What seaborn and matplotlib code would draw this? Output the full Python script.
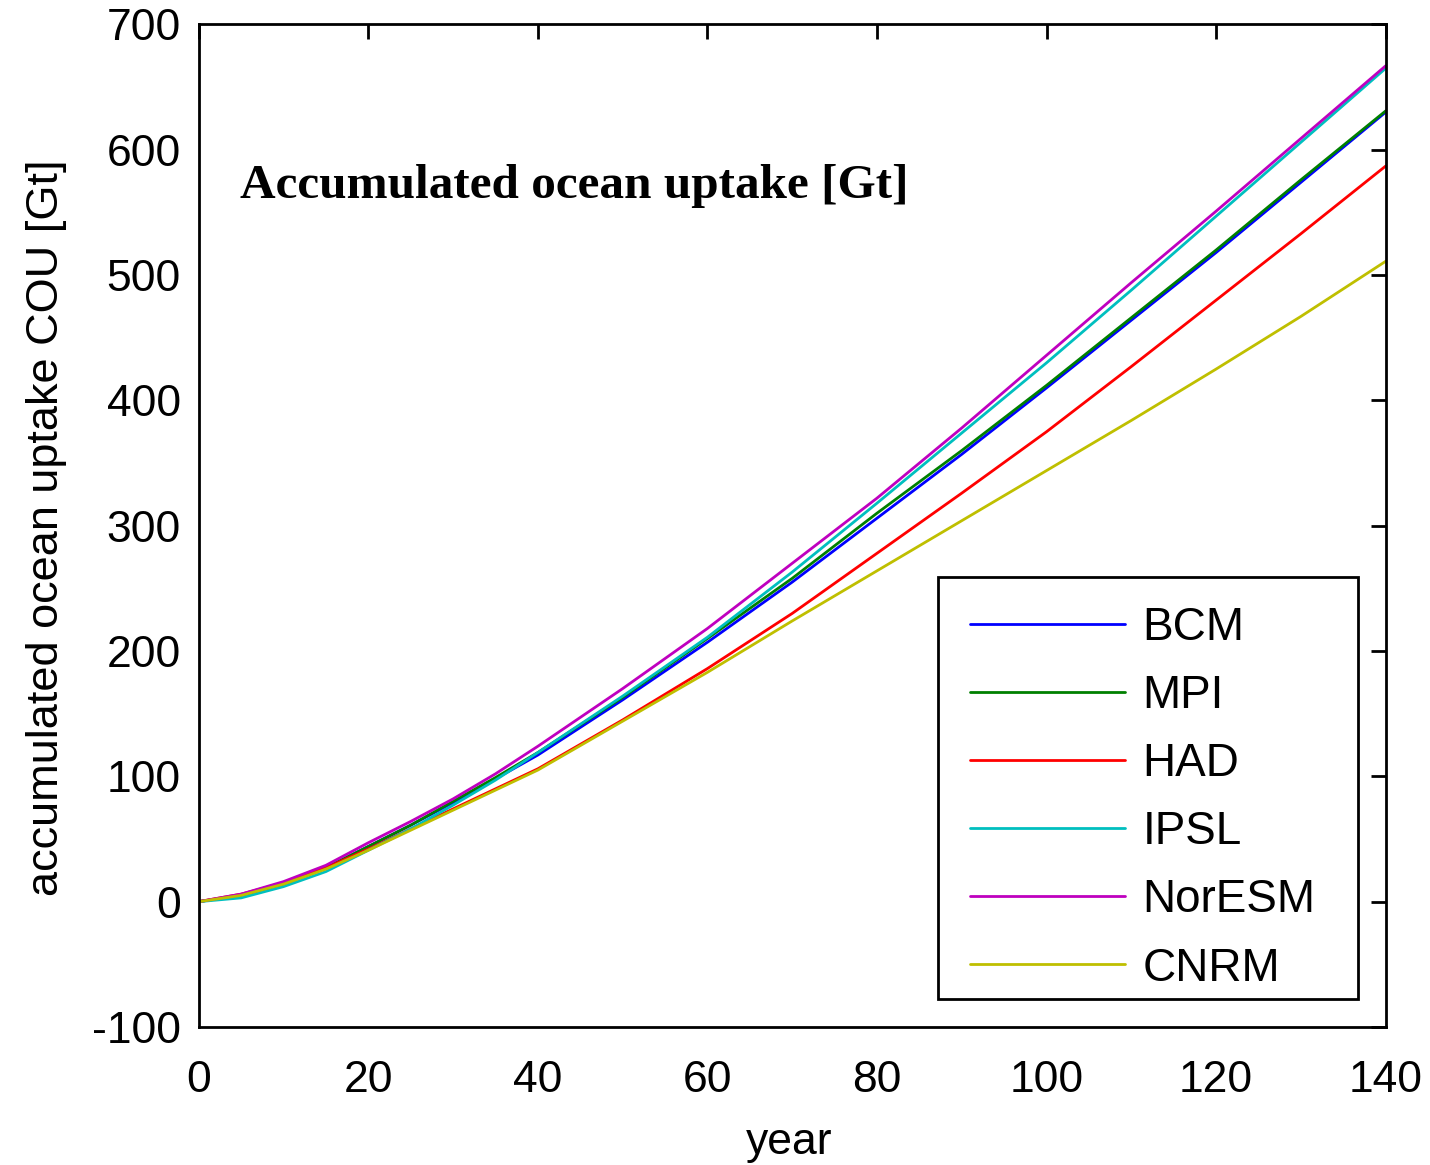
import matplotlib
matplotlib.use("Agg")
import matplotlib.pyplot as plt
from matplotlib.patches import Rectangle
import seaborn as sns
import pandas as pd

# Accumulated ocean carbon uptake per model (Gt)
years = [0, 5, 10, 15, 20, 25, 30, 35, 40, 50, 60, 70, 80, 90, 100, 110, 120, 130, 140]
bcm = [0, 5, 14, 27, 44, 61, 79, 98, 117, 161, 207, 255, 306, 357, 410, 464, 518, 574, 630]
mpi = [0, 5, 14, 27, 44, 61, 80, 99, 119, 163, 210, 258, 310, 360, 412, 466, 520, 576, 631]
had = [0, 6, 15, 27, 42, 58, 74, 90, 106, 145, 186, 230, 278, 326, 375, 427, 480, 533, 587]
ipsl = [0, 3, 12, 24, 41, 58, 77, 97, 119, 164, 211, 263, 318, 374, 430, 488, 547, 606, 665]
noresm = [0, 6, 16, 29, 47, 64, 82, 102, 124, 170, 218, 270, 322, 378, 436, 494, 551, 609, 667]
cnrm = [0, 5, 14, 26, 41, 57, 73, 89, 105, 144, 183, 224, 264, 304, 344, 384, 425, 467, 511]

models = ["BCM", "MPI", "HAD", "IPSL", "NorESM", "CNRM"]
series = [bcm, mpi, had, ipsl, noresm, cnrm]
colors = ["#0000ff", "#008000", "#ff0000", "#00bfbf", "#bf00bf", "#bfbf00"]

rows = []
for name, vals in zip(models, series):
    for yr, v in zip(years, vals):
        rows.append({"year": yr, "COU": v, "model": name})
df = pd.DataFrame(rows)

sns.set_style("white")
plt.rcParams["font.family"] = ["Liberation Sans", "DejaVu Sans"]
plt.rcParams["axes.unicode_minus"] = False
plt.rcParams["text.color"] = "black"
plt.rcParams["axes.labelcolor"] = "black"

fig = plt.figure(figsize=(14.3, 11.65), dpi=100)
ax = fig.add_axes([0.139, 0.1185, 0.830, 0.8605])

sns.lineplot(data=df, x="year", y="COU", hue="model", hue_order=models,
             palette=dict(zip(models, colors)), linewidth=2.0, ax=ax,
             legend=True)

ax.set_xlim(0, 140)
ax.set_ylim(-100, 700)
ax.set_xticks(range(0, 141, 20))
ax.set_yticks(range(-100, 701, 100))

for sp in ax.spines.values():
    sp.set_visible(True)
    sp.set_color("black")
    sp.set_linewidth(2.0)

ax.tick_params(direction="in", length=11, width=2, top=True, right=True,
               labelsize=32, colors="black")
ax.tick_params(axis="x", pad=24)
ax.tick_params(axis="y", pad=13)

ax.set_xlabel("year", fontsize=32)
ax.xaxis.set_label_coords(0.497, -0.095)
ax.set_ylabel("accumulated ocean uptake COU [Gt]", fontsize=32.5)
ax.yaxis.set_label_coords(-0.111, 0.498)

ax.text(0.0345, 0.839, "Accumulated ocean uptake [Gt]", transform=ax.transAxes,
        fontsize=35.5, fontweight="bold", color="black",
        family=["Liberation Serif", "DejaVu Serif"], va="center", ha="left")

# Legend entries without their own frame, boxed by a separate rectangle
handles, labels = ax.get_legend_handles_labels()
leg = ax.legend(handles, labels, loc="upper left",
                bbox_to_anchor=(0.6496, 0.4197),
                fontsize=33, frameon=False, handlelength=3.38,
                handletextpad=0.39, labelspacing=0.525, borderpad=0,
                borderaxespad=0)
for ln in leg.get_lines():
    ln.set_linewidth(2.0)

ax.add_patch(Rectangle((0.6226, 0.0279), 0.3538, 0.4207, transform=ax.transAxes,
                       fill=False, edgecolor="black", linewidth=2.0, zorder=5))

fig.savefig("out.png", dpi=100, facecolor="white")
